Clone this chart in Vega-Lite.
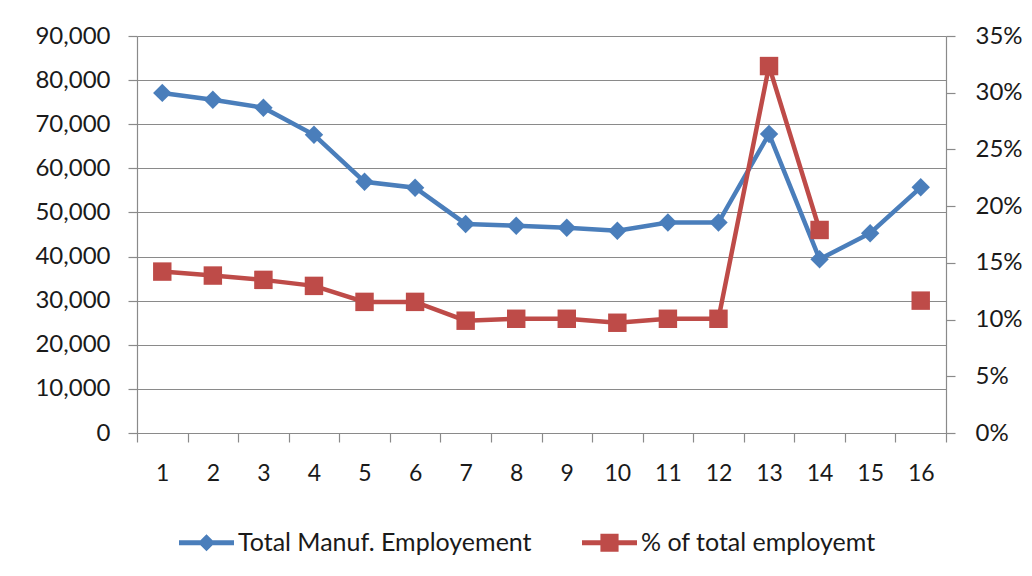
{
  "$schema": "https://vega.github.io/schema/vega-lite/v6.json",
  "autosize": {"type": "none"},
  "width": 809,
  "height": 397,
  "padding": {"left": 137, "top": 36, "right": 86, "bottom": 143},
  "background": "white",
  "config": {
    "font": "Lato",
    "view": {"stroke": null},
    "axis": {
      "labelFont": "Lato",
      "labelFontSize": 23,
      "labelColor": "#1a1a1a",
      "domainColor": "#8a8a8a",
      "tickColor": "#8a8a8a",
      "gridColor": "#8a8a8a",
      "domainWidth": 1.2,
      "tickWidth": 1.2,
      "gridWidth": 1.2,
      "titleFontSize": 0
    }
  },
  "data": {
    "values": [
      {"period": 1, "emp": 77100, "pct": 0.1423},
      {"period": 2, "emp": 75550, "pct": 0.1388},
      {"period": 3, "emp": 73750, "pct": 0.135},
      {"period": 4, "emp": 67600, "pct": 0.1297},
      {"period": 5, "emp": 56950, "pct": 0.1156},
      {"period": 6, "emp": 55600, "pct": 0.1156},
      {"period": 7, "emp": 47400, "pct": 0.099},
      {"period": 8, "emp": 47000, "pct": 0.1007},
      {"period": 9, "emp": 46550, "pct": 0.1007},
      {"period": 10, "emp": 45850, "pct": 0.0972},
      {"period": 11, "emp": 47700, "pct": 0.1007},
      {"period": 12, "emp": 47700, "pct": 0.1007},
      {"period": 13, "emp": 67800, "pct": 0.3235},
      {"period": 14, "emp": 39400, "pct": 0.179},
      {"period": 15, "emp": 45300, "pct": null},
      {"period": 16, "emp": 55700, "pct": 0.1167}
    ]
  },
  "encoding": {
    "x": {
      "field": "period",
      "type": "ordinal",
      "scale": {"paddingInner": 0, "paddingOuter": 0},
      "axis": {
        "title": null,
        "labelAngle": 0,
        "tickBand": "extent",
        "tickSize": 9,
        "labelPadding": 20,
        "grid": false,
        "domain": true
      }
    }
  },
  "layer": [
    {
      "mark": {
        "type": "line",
        "strokeWidth": 4.5,
        "invalid": "break-paths-filter-domains",
        "point": {"shape": "diamond", "size": 340, "filled": true, "opacity": 1}
      },
      "encoding": {
        "y": {
          "field": "emp",
          "type": "quantitative",
          "scale": {"domain": [0, 90000], "nice": false},
          "axis": {
            "title": null,
            "orient": "left",
            "values": [0, 10000, 20000, 30000, 40000, 50000, 60000, 70000, 80000, 90000],
            "format": ",d",
            "grid": true,
            "tickSize": 9,
            "labelPadding": 18,
            "labelFontSize": 24
          }
        },
        "color": {
          "datum": "Total Manuf. Employement",
          "type": "nominal",
          "scale": {
            "domain": ["Total Manuf. Employement", "% of total employemt"],
            "range": ["#4a7ebb", "#be4b48"]
          },
          "legend": {
            "orient": "none",
            "legendX": 42,
            "legendY": 479,
            "direction": "horizontal",
            "title": null,
            "padding": 0,
            "symbolSize": 3025,
            "labelFont": "Lato",
            "labelFontSize": 25,
            "labelColor": "#1a1a1a",
            "labelOffset": 4,
            "columnPadding": 50,
            "labelLimit": 500,
            "encode": {
              "symbols": {
                "update": {
                  "shape": {"signal": "datum.value === 'Total Manuf. Employement' ? 'M-1,-0.09H1V0.09H-1Z M0,-0.31L0.31,0L0,0.31L-0.31,0Z' : 'M-1,-0.09H1V0.09H-1Z M-0.33,-0.33H0.33V0.33H-0.33Z'"},
                  "fill": {"signal": "datum.value === 'Total Manuf. Employement' ? '#4a7ebb' : '#be4b48'"},
                  "stroke": {"value": "transparent"},
                  "strokeWidth": {"value": 0},
                  "opacity": {"value": 1}
                }
              }
            }
          }
        }
      }
    },
    {
      "mark": {
        "type": "line",
        "strokeWidth": 4.5,
        "invalid": "break-paths-filter-domains",
        "point": {"shape": "square", "size": 340, "filled": true, "opacity": 1}
      },
      "encoding": {
        "y": {
          "field": "pct",
          "type": "quantitative",
          "scale": {"domain": [0, 0.35], "nice": false},
          "axis": {
            "title": null,
            "orient": "right",
            "values": [0, 0.05, 0.1, 0.15, 0.2, 0.25, 0.3, 0.35],
            "format": ".0%",
            "grid": false,
            "tickSize": 9,
            "labelPadding": 20,
            "labelFontSize": 24
          }
        },
        "color": {"datum": "% of total employemt", "type": "nominal"}
      }
    }
  ],
  "resolve": {"scale": {"y": "independent"}}
}
